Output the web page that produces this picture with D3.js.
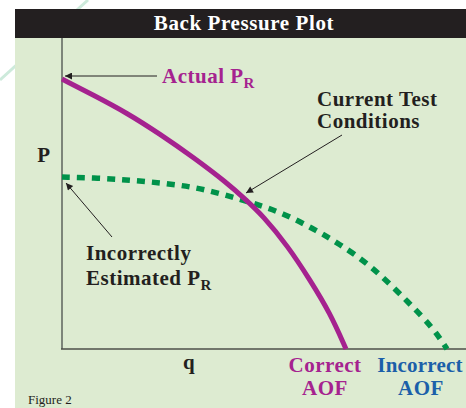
<!DOCTYPE html>
<html>
  <head>
    <meta charset="UTF-8">
    <title>Back Pressure Plot</title>
    <script src="https://d3js.org/d3.v7.min.js"></script>
    <style>
    body { margin: 0; background: #fff; }
    text { font-family: "Liberation Serif", "Times New Roman", serif; font-weight: bold; letter-spacing: 0.5px; }
    </style>
  </head>
  <body>
  <script type="text/javascript">

  // curves (q and P in arbitrary units 0-100)
  var actualQ    = [0, 7.75, 16.25, 24.5, 32.75, 41.25, 45.75, 50.25, 56.5, 62, 67, 71];
  var actualP    = [86.8, 81.7, 75.9, 69.1, 61.7, 53.4, 48.2, 42.8, 33.0, 22.2, 11.6, 0];
  var incorrectQ = [0, 9, 17, 25, 32.75, 40.25, 47.75, 55.25, 62.5, 69, 77.75, 87, 92.75, 96.25];
  var incorrectP = [55.3, 55.0, 54.3, 53.4, 52.1, 49.8, 46.9, 43.7, 38.9, 34.1, 26.4, 14.5, 6.8, 0];

  var W = 466, H = 408;

  var svg = d3.select('body')
    .append('svg')
    .attr('width', W)
    .attr('height', H);

  // faint decorative stroke behind the panel
  svg.append('line')
    .attr('x1', 0).attr('y1', 80)
    .attr('x2', 88).attr('y2', 0)
    .attr('stroke', '#cdeadb')
    .attr('stroke-width', 3);

  // panel + title bar
  svg.append('rect')
    .attr('x', 15).attr('y', 38)
    .attr('width', W - 15).attr('height', H - 38)
    .attr('fill', '#ddebd1');
  svg.append('rect')
    .attr('x', 15).attr('y', 9)
    .attr('width', W - 15).attr('height', 29)
    .attr('fill', '#231f20');
  svg.append('text')
    .attr('x', 244).attr('y', 30)
    .attr('text-anchor', 'middle')
    .attr('fill', '#fff')
    .style('font-size', '21px')
    .style('letter-spacing', '0.6px')
    .text('Back Pressure Plot');

  var x = d3.scaleLinear().domain([0, 100]).range([62, 462]);
  var y = d3.scaleLinear().domain([0, 100]).range([349, 38]);

  // axes
  svg.append('line')
    .attr('x1', x(0)).attr('y1', y(0))
    .attr('x2', x(0)).attr('y2', y(100))
    .attr('stroke', '#7d857a').attr('stroke-width', 2);
  svg.append('line')
    .attr('x1', x(0) - 1).attr('y1', y(0))
    .attr('x2', W).attr('y2', y(0))
    .attr('stroke', '#4d4f49').attr('stroke-width', 1.5);

  var line = d3.line()
    .x(d => x(d[0]))
    .y(d => y(d[1]))
    .curve(d3.curveBasis);

  svg.append('path')
    .datum(d3.zip(incorrectQ, incorrectP))
    .attr('d', line)
    .attr('fill', 'none')
    .attr('stroke', '#00924a')
    .attr('stroke-width', 5.5)
    .attr('stroke-dasharray', '8,7');

  svg.append('path')
    .datum(d3.zip(actualQ, actualP))
    .attr('d', line)
    .attr('fill', 'none')
    .attr('stroke', '#a5228f')
    .attr('stroke-width', 5);

  // arrows
  var defs = svg.append('defs');
  defs.append('marker')
    .attr('id', 'head')
    .attr('viewBox', '0 0 10 10')
    .attr('refX', 10).attr('refY', 5)
    .attr('markerWidth', 9).attr('markerHeight', 7)
    .attr('markerUnits', 'userSpaceOnUse')
    .attr('orient', 'auto')
    .append('path')
    .attr('d', 'M0,0L10,5L0,10z')
    .attr('fill', '#231f20');

  function arrow(x1, y1, x2, y2) {
    svg.append('line')
      .attr('x1', x1).attr('y1', y1)
      .attr('x2', x2).attr('y2', y2)
      .attr('stroke', '#231f20')
      .attr('stroke-width', 1)
      .attr('marker-end', 'url(#head)');
  }
  arrow(157, 76, 65, 76);
  arrow(342, 135, 246, 193);
  arrow(112, 237, 66, 183);

  function label(tx, ty, str, col, size, anchor) {
    return svg.append('text')
      .attr('x', tx).attr('y', ty)
      .attr('fill', col)
      .attr('text-anchor', anchor || 'start')
      .style('font-size', size + 'px')
      .text(str);
  }

  var t = label(162, 83, 'Actual P', '#a5228f', 21);
  t.append('tspan').attr('dy', 5).style('font-size', '15px').text('R');

  label(317, 106, 'Current Test', '#231f20', 21);
  label(317, 128, 'Conditions', '#231f20', 21);

  label(44, 162, 'P', '#231f20', 21, 'middle');

  label(86, 260, 'Incorrectly', '#231f20', 21);
  t = label(86, 285, 'Estimated P', '#231f20', 21);
  t.append('tspan').attr('dy', 5).style('font-size', '15px').text('R');

  label(189, 369, 'q', '#231f20', 21, 'middle');

  label(325, 372, 'Correct', '#a5228f', 21, 'middle');
  label(325, 395, 'AOF', '#a5228f', 21, 'middle');
  label(420, 372, 'Incorrect', '#1b5fa9', 21, 'middle').style('letter-spacing', '0.2px');
  label(421, 395, 'AOF', '#1b5fa9', 21, 'middle');

  svg.append('text')
    .attr('x', 28).attr('y', 404)
    .attr('fill', '#231f20')
    .style('font-size', '13px')
    .style('font-weight', 'normal')
    .style('letter-spacing', '0px')
    .text('Figure 2');

  </script>
  </body>
</html>
